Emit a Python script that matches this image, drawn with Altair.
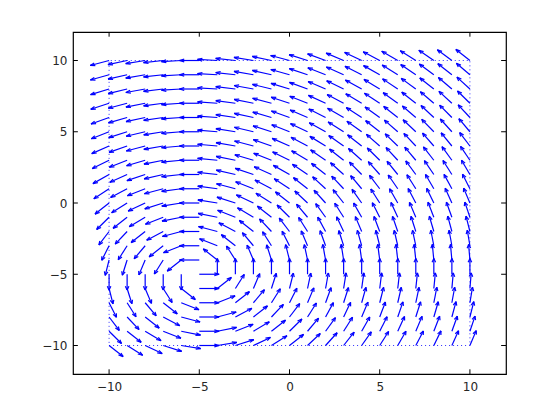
import altair as alt
import numpy as np
import pandas as pd

# ---- data ----
grid_x = list(range(-10, 11))          # arrow tails, columns
grid_y = list(range(-10, 11))          # arrow tails, rows
# horizontal component for each row (y = -10 .. 10)
u_by_row = [5, 4, 3, 2, 1, 0, -1, -2, -3, -4, -5, -6, -7, -8, -9, -10, -11, -12, -13, -14, -15]
# vertical component for each column (x = -10 .. 10)
v_by_col = [-5, -4, -3, -2, -1, 0, 1, 2, 3, 4, 5, 6, 7, 8, 9, 10, 11, 12, 13, 14, 15]
center_vec = (1.0, 0.0)                # the arrow drawn at the vortex centre
tick_values = [-10, -5, 0, 5, 10]
frame_x = [-10, 10, 10, -10, -10]
frame_y = [-10, -10, 10, 10, -10]

# ---- display settings ----
ARROW_LEN = 1.1
HEAD_BACK = 0.24
HEAD_HALF = 0.09
DOMAIN = [-12, 12]

segs = []
for i, x in enumerate(grid_x):
    for j, y in enumerate(grid_y):
        u, v = u_by_row[j], v_by_col[i]
        n = float(np.hypot(u, v))
        if n == 0:
            u, v = center_vec
            n = 1.0
        du, dv = ARROW_LEN * u / n, ARROW_LEN * v / n
        tx, ty = x + du, y + dv
        segs.append(dict(x=x, y=y, x2=tx, y2=ty))
        bx, by = x + du * (1 - HEAD_BACK), y + dv * (1 - HEAD_BACK)
        px, py = -dv * HEAD_HALF, du * HEAD_HALF
        segs.append(dict(x=tx, y=ty, x2=bx + px, y2=by + py))
        segs.append(dict(x=tx, y=ty, x2=bx - px, y2=by - py))
arrows = pd.DataFrame(segs)

frame = pd.DataFrame({"x": frame_x, "y": frame_y, "o": list(range(len(frame_x)))})

ticks = []
for t in tick_values:
    ticks.append(dict(x=t, y=DOMAIN[0], x2=t, y2=DOMAIN[0] + 0.33))
    ticks.append(dict(x=t, y=DOMAIN[1], x2=t, y2=DOMAIN[1] - 0.33))
    ticks.append(dict(x=DOMAIN[0], y=t, x2=DOMAIN[0] + 0.27, y2=t))
    ticks.append(dict(x=DOMAIN[1], y=t, x2=DOMAIN[1] - 0.27, y2=t))
ticks = pd.DataFrame(ticks)

xs = alt.Scale(domain=DOMAIN, nice=False, zero=False)
ys = alt.Scale(domain=DOMAIN, nice=False, zero=False)
axis_common = dict(values=tick_values, tickSize=0, domain=False, grid=False,
                   labelFont="DejaVu Sans", labelFontSize=12, labelColor="#262626",
                   title=None)
xaxis = alt.Axis(labelPadding=7, **axis_common)
yaxis = alt.Axis(labelPadding=6, **axis_common)

frame_layer = alt.Chart(frame).mark_line(
    color="#3030ff", strokeWidth=1, strokeDash=[1, 3]
).encode(
    x=alt.X("x:Q", scale=xs, axis=xaxis),
    y=alt.Y("y:Q", scale=ys, axis=yaxis),
    order="o:Q",
)

arrow_layer = alt.Chart(arrows).mark_rule(color="#0000ff", strokeWidth=1.2).encode(
    x=alt.X("x:Q", scale=xs), y=alt.Y("y:Q", scale=ys), x2="x2:Q", y2="y2:Q"
)

tick_layer = alt.Chart(ticks).mark_rule(color="#000000", strokeWidth=1).encode(
    x=alt.X("x:Q", scale=xs), y=alt.Y("y:Q", scale=ys), x2="x2:Q", y2="y2:Q"
)

chart = alt.layer(frame_layer, arrow_layer, tick_layer).properties(
    width=433, height=342,
    padding={"left": 65, "top": 24, "right": 46, "bottom": 38},
    autosize="none",
).configure(background="white").configure_view(stroke="#000000", strokeWidth=1.2)

chart.save("out.html", embed_options={"renderer": "svg", "actions": False})
